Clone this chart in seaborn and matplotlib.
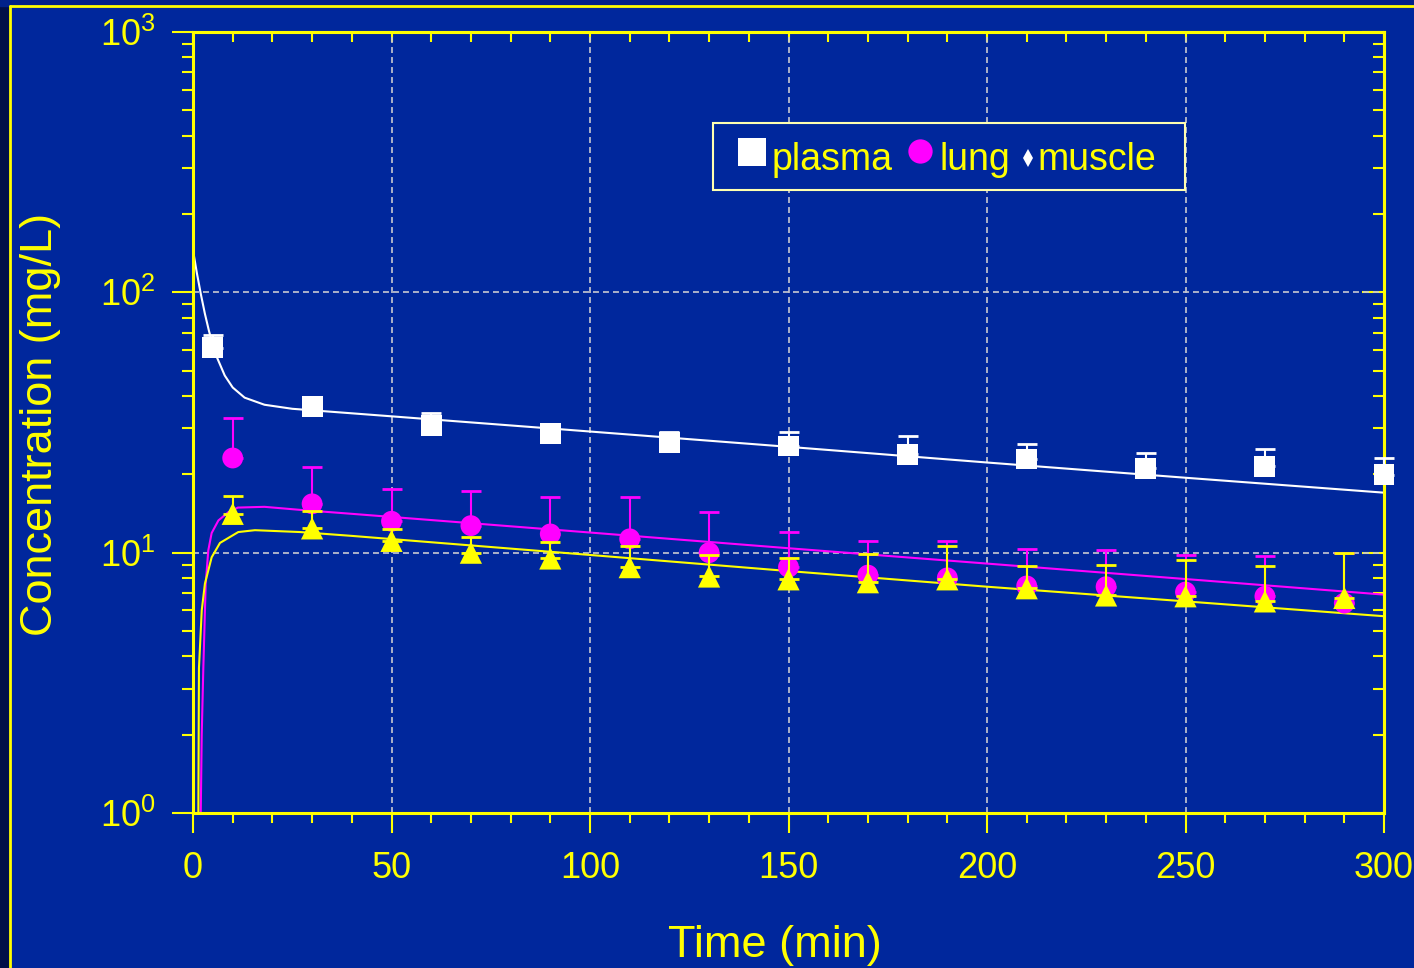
import numpy as np
import pandas as pd
import matplotlib
matplotlib.use("Agg")
import matplotlib.pyplot as plt
import seaborn as sns
from matplotlib.ticker import MultipleLocator, LogLocator, NullFormatter, FixedLocator, FixedFormatter
from matplotlib.lines import Line2D
from matplotlib.patches import Rectangle

# ---------------- data ----------------
plasma_t = [5, 30, 60, 90, 120, 150, 180, 210, 240, 270, 300]
plasma_mean = [61.3, 36.3, 30.7, 28.6, 26.4, 25.7, 23.9, 22.9, 21.1, 21.5, 19.9]
plasma_upper = [68.5, 37.0, 34.4, 29.6, 29.1, 29.1, 28.0, 26.1, 24.1, 25.0, 23.1]

tissue_t = [10, 30, 50, 70, 90, 110, 130, 150, 170, 190, 210, 230, 250, 270, 290]
lung_mean = [23.1, 15.4, 13.2, 12.7, 11.8, 11.3, 10.0, 8.8, 8.2, 8.0, 7.45, 7.4, 7.06, 6.8, 6.4]
lung_upper = [32.9, 21.3, 17.6, 17.3, 16.4, 16.3, 14.3, 12.0, 11.1, 11.1, 10.3, 10.2, 9.8, 9.7, 10.0]
muscle_mean = [14.1, 12.4, 11.1, 10.0, 9.5, 8.8, 8.1, 7.9, 7.7, 7.9, 7.3, 6.85, 6.8, 6.5, 6.7]
muscle_upper = [16.5, 14.4, 12.3, 11.5, 11.0, 10.6, 9.8, 9.5, 9.9, 10.6, 8.9, 9.0, 9.4, 8.9, 10.0]

plasma_fit_t = [0, 1, 2, 3, 4, 5, 6, 8, 10, 13, 18, 25, 50, 100, 150, 200, 250, 300]
plasma_fit = [145, 118, 98, 82.7, 71.3, 62.8, 56.4, 47.9, 43.1, 39.4, 37.0, 35.7, 33.4, 29.2, 25.5, 22.2, 19.4, 17.0]

lung_fit_t = [1.95, 2.2, 2.6, 3.2, 3.85, 4.7, 6.4, 8.9, 11.3, 18, 27, 40, 100, 150, 200, 250, 300]
lung_fit = [1.0, 2.0, 3.6, 7.6, 10.2, 11.9, 13.3, 14.3, 14.9, 15.0, 14.6, 14.1, 11.95, 10.4, 9.08, 7.92, 6.9]

muscle_fit_t = [1.35, 1.43, 1.5, 2.2, 3.0, 4.7, 6.8, 11.4, 15.6, 27, 40, 100, 150, 200, 250, 300]
muscle_fit = [1.0, 2.0, 3.6, 6.0, 7.6, 9.6, 10.9, 12.0, 12.2, 12.0, 11.6, 9.8, 8.5, 7.4, 6.5, 5.7]

x_ticks = [0, 50, 100, 150, 200, 250, 300]
y_ticks = [1, 10, 100, 1000]
y_tick_labels = ["$10^{0}$", "$10^{1}$", "$10^{2}$", "$10^{3}$"]
legend_labels = ["plasma", "lung", "muscle"]

# ---------------- style ----------------
sns.set_theme(style="ticks")
plt.rcParams["font.family"] = ["Liberation Sans", "DejaVu Sans"]
plt.rcParams.update({
    "mathtext.fontset": "custom",
    "mathtext.rm": "Liberation Sans",
    "mathtext.it": "Liberation Sans:italic",
    "mathtext.bf": "Liberation Sans:bold",
    "lines.scale_dashes": False,
})

BG = "#00279c"
YEL = "#ffff00"
MAG = "#ff00ff"
W, H = 1414, 968


def fx(px):
    return px / W


def fy(py):
    return 1 - py / H


fig = plt.figure(figsize=(W / 100, H / 100), dpi=100, facecolor=BG)
# outer frame decoration
fig.add_artist(Rectangle((0, 0), fx(9), 1, transform=fig.transFigure, color="#000f48", zorder=-5))
fig.add_artist(Rectangle((0, fy(6)), 1, 6 / H, transform=fig.transFigure, color="#00218a", zorder=-5))
fig.add_artist(Line2D([fx(10), fx(10)], [0, fy(6)], transform=fig.transFigure, color=YEL, lw=2))
fig.add_artist(Line2D([fx(10), 1], [fy(6), fy(6)], transform=fig.transFigure, color=YEL, lw=2))

ax = fig.add_axes([fx(193), fy(813), (1384 - 193) / W, (813 - 32) / H])
ax.set_facecolor(BG)
ax.set_yscale("log")
ax.set_xlim(0, 300)
ax.set_ylim(1, 1000)

# grid
ax.grid(True, which="major", color="#c8c8d0", ls=(0, (4.3, 2.9)), lw=1.2)
ax.set_axisbelow(True)

# fitted curves
sns.lineplot(x=plasma_fit_t, y=plasma_fit, color="white", lw=1.5, ax=ax, sort=False, estimator=None, zorder=2)
sns.lineplot(x=lung_fit_t, y=lung_fit, color=MAG, lw=1.5, ax=ax, sort=False, estimator=None, zorder=2)
sns.lineplot(x=muscle_fit_t, y=muscle_fit, color=YEL, lw=1.5, ax=ax, sort=False, estimator=None, zorder=2)


# error bars (upper only) and points
def series(t, mean, upper, color, marker, size, z):
    t = np.asarray(t, float)
    m = np.asarray(mean, float)
    u = np.asarray(upper, float)
    ax.errorbar(t, m, yerr=[np.zeros_like(m), u - m], fmt="none", ecolor=color,
                elinewidth=1.5, capsize=7, capthick=2, zorder=z, clip_on=False)
    sns.scatterplot(x=t, y=m, marker=marker, s=size ** 2, color=color, edgecolor="none",
                    linewidth=0, ax=ax, zorder=z + 0.5, clip_on=False)


series(plasma_t, plasma_mean, plasma_upper, "white", "s", 15, 4)
series(tissue_t, lung_mean, lung_upper, MAG, "o", 15, 5)
series(tissue_t, muscle_mean, muscle_upper, YEL, "^", 16, 6)

# ticks
ax.xaxis.set_major_locator(FixedLocator(x_ticks))
ax.xaxis.set_minor_locator(MultipleLocator(10))
ax.yaxis.set_major_locator(FixedLocator(y_ticks))
ax.yaxis.set_major_formatter(FixedFormatter(y_tick_labels))
ax.yaxis.set_minor_locator(LogLocator(base=10, subs=np.arange(2, 10)))
ax.yaxis.set_minor_formatter(NullFormatter())

ax.tick_params(axis="x", which="major", direction="out", length=14.4, width=1.5, color=YEL,
               labelcolor=YEL, labelsize=26, pad=13, top=False)
ax.tick_params(axis="x", which="minor", direction="out", length=7.2, width=1.5, color=YEL, top=False)
ax.tick_params(axis="y", which="major", direction="out", length=15, width=1.5, color=YEL,
               labelcolor=YEL, labelsize=26, pad=12, right=False)
ax.tick_params(axis="y", which="minor", direction="out", length=8, width=1.5, color=YEL, right=False)

for s in ax.spines.values():
    s.set_color(YEL)
    s.set_linewidth(2.2)

secx = ax.secondary_xaxis("top")
secx.xaxis.set_major_locator(MultipleLocator(10))
secx.tick_params(axis="x", which="major", direction="in", length=7.5, width=1.5, color=YEL, labeltop=False)
secx.spines["top"].set_color(YEL)
secx.spines["top"].set_linewidth(2.2)

secy = ax.secondary_yaxis("right")
secy.yaxis.set_major_locator(FixedLocator(y_ticks))
secy.yaxis.set_minor_locator(LogLocator(base=10, subs=np.arange(2, 10)))
secy.yaxis.set_minor_formatter(NullFormatter())
secy.tick_params(axis="y", which="major", direction="in", length=16, width=1.5, color=YEL, labelright=False)
secy.tick_params(axis="y", which="minor", direction="in", length=8, width=1.5, color=YEL, labelright=False)
secy.spines["right"].set_color(YEL)
secy.spines["right"].set_linewidth(2.2)

ax.set_xlabel("")
ax.set_ylabel("")
fig.text(fx(775), fy(957), "Time (min)", ha="center", va="baseline", fontsize=32.5, color=YEL)
fig.text(fx(52), fy(424), "Concentration (mg/L)", rotation=90, rotation_mode="anchor",
         ha="center", va="baseline", fontsize=32.5, color=YEL)

# legend (drawn as a key box with markers and labels)
fig.add_artist(Rectangle((fx(713), fy(190)), (1185 - 713) / W, (190 - 123) / H,
                         transform=fig.transFigure, facecolor=BG, edgecolor="#ffffb0",
                         lw=1.5, zorder=10))
key_markers = [("s", "white", 20, 752, 152), ("o", MAG, 17.5, 920, 151), ("d", "white", 9, 1028, 158)]
key_text_x = [772, 940, 1037]
for (mk, col, ms, mx, my), lab, tx in zip(key_markers, legend_labels, key_text_x):
    fig.add_artist(Line2D([fx(mx)], [fy(my)], transform=fig.transFigure, marker=mk, color=col,
                          ls="none", markersize=ms, markeredgewidth=0, zorder=11))
    fig.text(fx(tx), fy(170), lab, ha="left", va="baseline", fontsize=27, color=YEL, zorder=11)

fig.savefig("out.png", dpi=100, facecolor=BG)
